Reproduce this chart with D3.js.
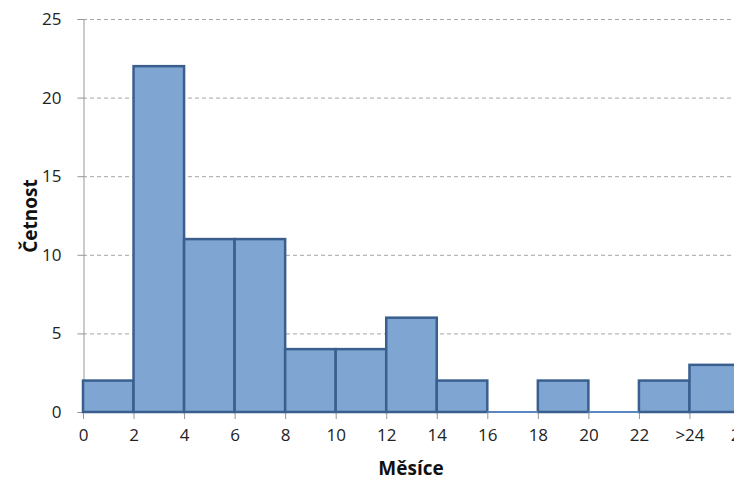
<!DOCTYPE html>
<html>
<head>
<meta charset="utf-8">
<script src="https://cdn.jsdelivr.net/npm/d3@7"></script>
<style>
  body { margin: 0; background: #fff; }
  svg { display: block; font-family: "Open Sans", "Liberation Sans", sans-serif; }
</style>
</head>
<body>
<svg id="chart" width="734" height="480"></svg>
<script>
// bins of months (start of each bin) and counts
const binStarts = [0, 2, 4, 6, 8, 10, 12, 14, 16, 18, 20, 22, 24];
const counts = [2, 22, 11, 11, 4, 4, 6, 2, 0, 2, 0, 2, 3];
const xTickValues = [0, 2, 4, 6, 8, 10, 12, 14, 16, 18, 20, 22, 24, 26];
const xTickLabels = ["0", "2", "4", "6", "8", "10", "12", "14", "16", "18", "20", "22", ">24", "26"];
const yTicks = [0, 5, 10, 15, 20, 25];
const binWidth = 2;

const svg = d3.select('#chart');

const x = d3.scaleLinear().domain([0, 26]).range([83, 740]);
const y = d3.scaleLinear().domain([0, 25]).range([412, 19]);

// dashed gridlines
svg.append('g')
    .selectAll('line')
    .data(yTicks.filter(d => d > 0))
    .join('line')
    .attr('x1', x(0))
    .attr('x2', 734)
    .attr('y1', d => y(d) + 0.5)
    .attr('y2', d => y(d) + 0.5)
    .attr('stroke', '#a6a6a6')
    .attr('stroke-width', 1)
    .attr('stroke-dasharray', '4,3');

// y axis
const yAxis = svg.append('g')
    .attr('transform', `translate(${x(0) + 0.5},0)`)
    .call(d3.axisLeft(y).tickValues(yTicks).tickSize(6).tickPadding(16));
yAxis.select('.domain').attr('stroke', '#969696');
yAxis.selectAll('.tick line').attr('stroke', '#969696');
yAxis.selectAll('.tick text')
    .attr('font-size', 17)
    .attr('fill', '#222')
    .attr('font-family', '"Open Sans", sans-serif');

// bars
const data = binStarts.map((s, i) => ({ start: s, count: counts[i] }));

svg.append('g')
    .selectAll('rect')
    .data(data.filter(d => d.count > 0))
    .join('rect')
    .attr('x', d => x(d.start))
    .attr('y', d => y(d.count))
    .attr('width', d => x(d.start + binWidth) - x(d.start))
    .attr('height', d => y(0) - y(d.count))
    .attr('fill', '#7fa5d2')
    .attr('stroke', '#3a5f8f')
    .attr('stroke-width', 2.5);

// empty bins are just a thin line on the baseline
svg.append('g')
    .selectAll('line')
    .data(data.filter(d => d.count === 0))
    .join('line')
    .attr('x1', d => x(d.start))
    .attr('x2', d => x(d.start + binWidth))
    .attr('y1', y(0))
    .attr('y2', y(0))
    .attr('stroke', '#5b87c0')
    .attr('stroke-width', 2);

// x axis
const xAxis = svg.append('g')
    .attr('transform', `translate(0,${y(0) + 1})`)
    .call(d3.axisBottom(x).tickValues(xTickValues)
        .tickFormat((d, i) => xTickLabels[i]).tickSize(6).tickPadding(10));
xAxis.select('.domain').remove();
xAxis.selectAll('.tick line').attr('stroke', '#969696');
xAxis.selectAll('.tick text')
    .attr('font-size', 17)
    .attr('fill', '#222')
    .attr('font-family', '"Open Sans", sans-serif');

// axis titles
svg.append('text')
    .attr('x', 411)
    .attr('y', 475)
    .attr('text-anchor', 'middle')
    .attr('font-size', 19)
    .attr('font-weight', 'bold')
    .attr('fill', '#111')
    .text('Měsíce');

svg.append('text')
    .attr('transform', 'translate(37,216) rotate(-90)')
    .attr('text-anchor', 'middle')
    .attr('font-size', 19)
    .attr('font-weight', 'bold')
    .attr('fill', '#111')
    .text('Četnost');
</script>
</body>
</html>
